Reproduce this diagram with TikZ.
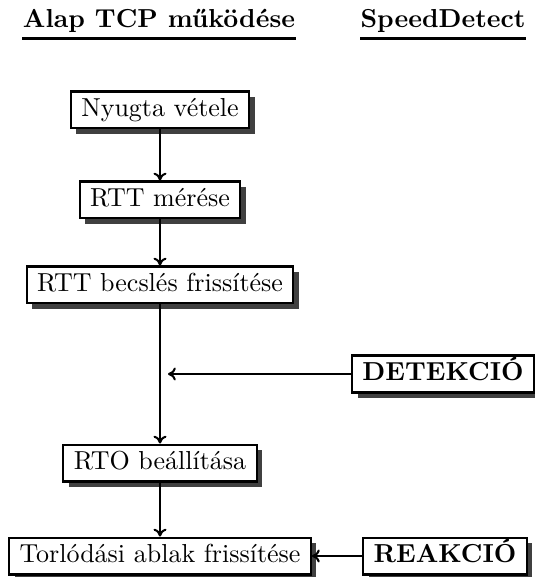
\documentclass[tikz,border=0pt]{standalone}
\usetikzlibrary{shadows,arrows.meta}
\begin{document}
\begin{tikzpicture}[x=0.3846pt,y=-0.3846pt,
  box/.style={draw=black,line width=0.8pt,fill=white,inner xsep=4pt,inner ysep=2.6pt,
    text height=7pt,text depth=2pt,
    drop shadow={shadow xshift=2.1pt,shadow yshift=-2.1pt,fill=black!75,opacity=1}},
  hdr/.style={font=\bfseries,inner sep=0pt,anchor=base},
  uline/.style={line width=1.2pt},
  conn/.style={line width=0.8pt,-{To[length=3pt,width=5pt]}}]
\useasboundingbox (0,0) rectangle (534,577);
\node[hdr] (h1) at (159,28) {Alap TCP működése};
\node[hdr] (h2) at (443,28) {SpeedDetect};
\draw[uline] ([yshift=-4pt]h1.base west) -- ([yshift=-4pt]h1.base east);
\draw[uline] ([yshift=-4pt]h2.base west) -- ([yshift=-4pt]h2.base east);
\node[box] (n1) at (160,110) {Nyugta vétele};
\node[box] (n2) at (160,200) {RTT mérése};
\node[box] (n3) at (160,285) {RTT becslés frissítése};
\node[box] (n4) at (160,463) {RTO beállítása};
\node[box] (n5) at (160,556) {Torlódási ablak frissítése};
\node[box,font=\bfseries] (d) at (443,374) {DETEKCIÓ};
\node[box,font=\bfseries] (r) at (445,556) {REAKCIÓ};
\coordinate (m) at (168,374);
\draw[conn] (n1) -- (n2);
\draw[conn] (n2) -- (n3);
\draw[conn] (n3) -- (n4);
\draw[conn] (n4) -- (n5);
\draw[conn] (d) -- (m);
\draw[conn] (r) -- (n5);
\end{tikzpicture}
\end{document}
